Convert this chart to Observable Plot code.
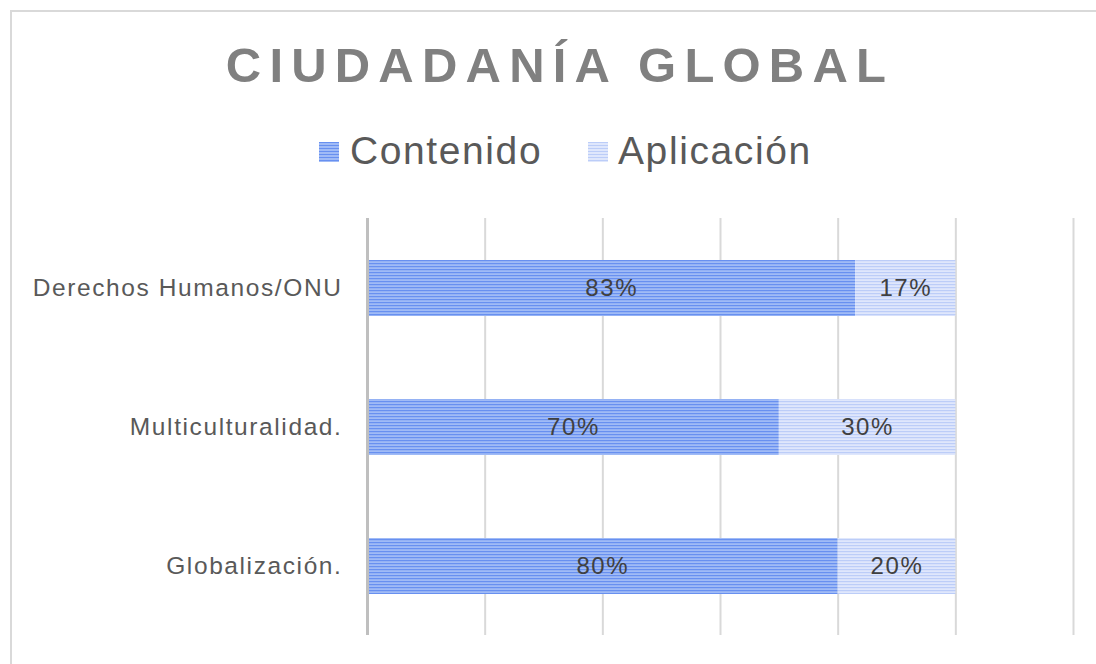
<!DOCTYPE html>
<html>
<head>
<meta charset="utf-8">
<script src="https://cdn.jsdelivr.net/npm/d3@7"></script>
<script src="https://cdn.jsdelivr.net/npm/@observablehq/plot@0.6"></script>
<style>
  body { margin:0; width:1096px; height:664px; overflow:hidden; position:relative; background:#fff; font-family:"Liberation Sans", Arial, sans-serif; }
  #frame { position:absolute; left:10px; top:10px; width:1100px; height:700px; border:2px solid #d9d9d9; box-sizing:border-box; }
  #title { position:absolute; left:10px; width:1092px; top:41px; text-align:center; font-size:49px; line-height:1; font-weight:bold; color:#808080; letter-spacing:8.2px; padding-left:8px; box-sizing:border-box; white-space:nowrap; }
  .sw { position:absolute; width:20px; height:20px; top:142px; }
  .lt { position:absolute; top:131px; font-size:39px; line-height:1; color:#595959; letter-spacing:1.6px; white-space:nowrap; }
  #sw1 { left:319px; background:repeating-linear-gradient(to bottom,#6890f0 0px,#6890f0 1.2px,#a0bbf6 1.2px,#a0bbf6 3px); }
  #sw2 { left:588px; background:repeating-linear-gradient(to bottom,#bccdf8 0px,#bccdf8 1.2px,#dfe7fc 1.2px,#dfe7fc 3px); }
  #chart { position:absolute; left:0; top:200px; }
</style>
</head>
<body>
<div id="frame"></div>
<div id="title">CIUDADANÍA GLOBAL</div>
<div class="sw" id="sw1"></div><div class="lt" style="left:350px">Contenido</div>
<div class="sw" id="sw2"></div><div class="lt" style="left:618px">Aplicación</div>
<div id="chart"></div>
<script>
const categories = ["Derechos Humanos/ONU", "Multiculturalidad.", "Globalización."];
const contenido = [83, 70, 80];
const aplicacion = [17, 30, 20];
const series = ["Contenido", "Aplicación"];
const gridTicks = [20, 40, 60, 80, 100, 120];

const rows = [];
categories.forEach((c, i) => {
  rows.push({cat: c, serie: series[0], x1: 0, x2: contenido[i], value: contenido[i]});
  rows.push({cat: c, serie: series[1], x1: contenido[i], x2: contenido[i] + aplicacion[i], value: aplicacion[i]});
});
const rowsC = rows.filter(d => d.serie === series[0]);
const rowsA = rows.filter(d => d.serie === series[1]);

const svg = Plot.plot({
  width: 1096,
  height: 464,
  marginTop: 18,
  marginBottom: 29,
  marginLeft: 367,
  marginRight: 23,
  style: {fontFamily: '"Liberation Sans", Arial, sans-serif', fontSize: "24.5px", letterSpacing: "1.6px", background: "transparent"},
  x: {domain: [0, 120], axis: null},
  y: {domain: categories, paddingInner: 0.6, paddingOuter: 0.3, label: null},
  color: {type: "identity"},
  marks: [
    Plot.ruleX(gridTicks, {stroke: "#d9d9d9", strokeWidth: 2}),
    Plot.barX(rowsC, {y: "cat", x1: "x1", x2: "x2", fill: () => "url(#pC)"}),
    Plot.barX(rowsA, {y: "cat", x1: "x1", x2: "x2", fill: () => "url(#pA)"}),
    Plot.ruleX([0], {stroke: "#bfbfbf", strokeWidth: 3}),
    Plot.text(rows, {y: "cat", x: d => (d.x1 + d.x2) / 2, text: d => d.value + "%", fill: "#404040", fontSize: 24}),
    Plot.axisY({tickSize: 0, tickPadding: 25, color: "#595959", label: null})
  ]
});
const ns = "http://www.w3.org/2000/svg";
const defs = document.createElementNS(ns, "defs");
defs.innerHTML = `
<pattern id="pC" patternUnits="userSpaceOnUse" width="8" height="3">
  <rect width="8" height="3" fill="#a0bbf6"/><rect width="8" height="1.2" fill="#6890f0"/>
</pattern>
<pattern id="pA" patternUnits="userSpaceOnUse" width="8" height="3">
  <rect width="8" height="3" fill="#dfe7fc"/><rect width="8" height="1.2" fill="#bccdf8"/>
</pattern>`;
svg.prepend(defs);
document.getElementById("chart").appendChild(svg);
</script>
</body>
</html>
